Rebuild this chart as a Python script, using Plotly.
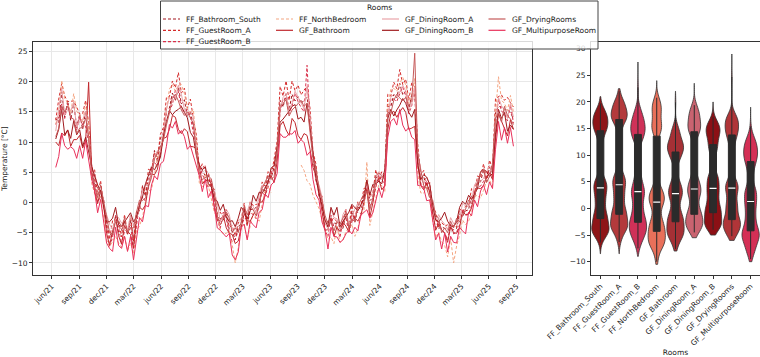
import numpy as np
import pandas as pd
import plotly.graph_objects as go

# ---------------- data ----------------
rooms = ["FF_Bathroom_South", "FF_GuestRoom_A", "FF_GuestRoom_B", "FF_NorthBedroom",
         "GF_Bathroom", "GF_DiningRoom_A", "GF_DiningRoom_B", "GF_DryingRooms",
         "GF_MultipurposeRoom"]

start_date = "2021-06-14"   # first sample, one sample every 10 days

ff_bathroom_south = [
    13.9, 13.2, 18.3, 14.1, 16.8, 13.6, 16.5, 12.4, 14.6, 12.1,
    15.1, 10.4, 6.3, 3.1, 2.5, 1.4, 0.6, -4.2, -5.1, -5.6,
    -2.1, -4.9, -4.6, -3.1, -5.4, -2.9, -6.4, -2.1, -1.3, 2.8,
    1.0, 4.4, 4.9, 8.6, 6.8, 10.7, 11.0, 15.5, 15.6, 18.1,
    16.8, 19.1, 16.3, 17.0, 14.2, 15.1, 12.3, 10.1, 4.8, 5.3,
    4.4, 4.5, 2.3, 1.2, -2.4, -2.6, -2.9, -1.9, -4.5, -4.7,
    -6.2, -4.0, -3.5, -0.9, -3.9, -1.1, -1.2, -0.8, -0.6, 2.3,
    1.9, 4.5, 4.0, 5.9, 8.6, 16.9, 15.8, 18.0, 15.3, 17.9,
    16.8, 17.5, 16.4, 16.9, 17.4, 14.0, 7.9, 5.5, 0.9, 0.3,
    -3.8, -4.0, -3.3, -3.4, -3.5, -4.1, -4.3, -1.9, -4.3, -1.4,
    -3.3, -0.8, -1.1, 1.4, 3.8, 0.3, 0.8, 4.3, 3.4, 4.4,
    3.9, 15.9, 15.8, 17.9, 17.3, 19.7, 17.8, 18.4, 15.3, 17.9,
    17.8, 8.4, 3.9, 4.3, 2.4, 2.3, -1.3, -2.4, -4.3, -4.0,
    -4.3, -4.4, -4.8, -4.5, -4.3, -1.9, -2.3, -1.4, -1.2, 1.3,
    0.9, 3.3, 3.4, 5.4, 3.4, 5.8, 4.9, 14.9, 15.9, 15.8,
    15.4, 15.3, 14.9, 13.8]

ff_guestroom_a = [
    13.6, 17.1, 19.7, 17.6, 16.7, 16.7, 16.8, 15.8, 14.6, 14.7,
    16.9, 13.1, 5.7, 5.4, 1.3, 3.6, -0.6, -2.4, -6.1, -3.0,
    -2.9, -2.9, -5.7, -2.0, -5.2, -2.1, -6.3, -1.5, -0.9, 2.6,
    1.4, 5.5, 5.2, 8.3, 7.2, 11.3, 12.4, 17.4, 17.5, 20.1,
    19.0, 21.5, 18.1, 18.9, 15.6, 17.1, 13.9, 11.2, 5.1, 6.4,
    5.2, 5.0, 2.7, 2.2, -1.9, -1.6, -2.5, -1.1, -4.1, -3.8,
    -5.5, -3.4, -2.8, -0.1, -3.7, 0.1, -0.5, -0.3, -0.4, 3.4,
    2.7, 5.1, 4.3, 6.9, 10.1, 19.2, 17.6, 20.1, 16.9, 20.1,
    18.5, 19.4, 17.8, 18.6, 19.2, 15.6, 8.4, 6.3, 1.5, 1.1,
    -3.3, -3.1, -3.0, -2.6, -3.2, -3.3, -3.9, -1.1, -4.1, -0.4,
    -2.9, 0.1, -0.6, 2.3, 2.3, 1.2, 1.5, 5.4, 3.7, 5.1,
    4.6, 17.9, 17.6, 19.9, 18.8, 22.0, 19.5, 20.4, 16.9, 19.8,
    19.1, 9.7, 4.5, 5.3, 2.8, 3.3, -0.7, -1.6, -4.2, -3.3,
    -3.9, -3.7, -4.4, -3.8, -4.1, -1.0, -1.6, -0.6, -0.6, 2.3,
    1.5, 4.4, 4.1, 6.4, 3.8, 7.0, 5.6, 17.2, 17.5, 17.8,
    16.9, 17.4, 16.5, 15.8]

ff_guestroom_b = [
    12.9, 14.2, 16.3, 13.9, 16.4, 14.2, 13.7, 12.0, 14.2, 12.8,
    12.6, 9.9, 6.1, 3.7, 0.0, 1.0, -0.3, -3.5, -7.2, -5.8,
    -2.2, -4.1, -6.9, -4.7, -4.4, -3.7, -7.5, -3.8, -0.1, 0.9,
    0.2, 2.4, 5.6, 6.7, 6.0, 7.9, 12.0, 14.7, 15.2, 16.2,
    18.6, 18.4, 15.5, 15.0, 15.4, 14.2, 11.5, 8.3, 6.1, 4.6,
    3.7, 2.4, 3.6, 0.6, -2.9, -4.3, -1.6, -2.7, -5.1, -6.5,
    -6.1, -4.7, -3.9, -2.7, -2.6, -1.7, -2.0, -2.7, 0.4, 1.6,
    1.2, 2.5, 5.1, 5.1, 7.7, 15.0, 17.1, 17.2, 14.7, 16.0,
    18.1, 16.7, 15.7, 15.0, 22.7, 13.2, 7.0, 3.5, 2.1, -0.5,
    -4.5, -5.7, -2.1, -4.1, -3.9, -5.8, -3.1, -2.6, -5.0, -3.2,
    -2.1, -1.6, -1.9, -0.5, 3.1, -0.6, 0.2, 2.5, 4.6, 3.6,
    3.2, 14.0, 17.1, 17.1, 16.7, 18.0, 19.1, 17.6, 14.7, 16.0,
    19.1, 7.6, 3.2, 2.5, 3.6, 1.6, -2.0, -4.2, -3.1, -4.6,
    -5.0, -6.2, -3.6, -5.2, -4.9, -3.7, -1.1, -2.1, -2.0, -0.5,
    2.1, 2.6, 2.7, 3.5, 4.6, 5.1, 4.2, 13.0, 17.1, 15.1,
    14.7, 13.5, 16.1, 13.1]

ff_northbedroom = [
    13.0, 14.7, 20.2, 17.2, 16.4, 14.8, 18.0, 15.1, 14.4, 13.3,
    16.3, 13.0, 3.2, 1.5, 0.6, 1.0, -2.7, -6.2, -7.3, -6.4,
    -5.6, -6.7, -7.4, -5.5, -8.0, -6.7, -8.5, -4.6, -3.9, -2.4,
    0.1, 1.9, 2.1, 4.6, 7.4, 8.8, 11.3, 15.2, 18.8, 19.5,
    18.4, 19.4, 19.5, 18.0, 15.5, 14.7, 15.4, 9.7, 3.2, 2.6,
    4.7, 2.8, 0.6, -1.6, -2.4, -4.5, -5.2, -5.1, -4.7, -7.0,
    -10.0, -7.6, -3.9, -3.6, -6.1, -4.1, -1.7, -2.5, -3.1, -0.3,
    2.1, 2.7, 1.6, None, None, None, None, None, None, None,
    None, None, 6.2, 5.3, 3.6, 3.0, 1.2, 0.1, -1.0, -2.8,
    -4.3, -6.1, -5.7, -6.8, -3.8, -6.6, -6.2, -4.8, -4.3, -3.6,
    -5.6, -4.3, -1.7, -1.5, 6.7, -3.8, -1.5, 1.0, 3.0, 2.8,
    1.7, 15.7, 18.7, 18.9, 18.4, 19.7, 20.7, 19.4, 16.4, 17.7,
    20.5, 4.8, 1.6, 1.5, 2.6, 0.7, -3.1, -5.8, -4.9, -6.5,
    -7.1, -9.0, -5.9, -10.0, -7.2, -5.4, -2.9, -3.7, -3.1, -1.7,
    1.0, 1.2, 0.7, 2.0, 3.5, 3.7, 2.7, 14.7, 20.8, 16.9,
    16.4, 15.2, 17.7, 14.9]

gf_bathroom = [
    10.0, 9.4, 11.5, 11.0, 12.0, 9.3, 10.4, 10.4, 11.1, 9.0,
    10.2, 19.9, 5.4, 1.8, -0.2, 2.0, -0.3, -5.1, -7.1, -4.8,
    -2.5, -5.5, -6.9, -3.8, -4.8, -5.3, -7.6, -2.8, -0.8, -1.2,
    -0.4, 2.9, 4.7, 4.6, 5.5, 8.4, 10.6, 10.8, 12.1, 14.4,
    14.1, 12.1, 11.4, 12.2, 11.7, 9.3, 9.2, 8.9, 5.7, 3.1,
    3.6, 3.7, 3.2, -0.9, -2.9, -3.0, -2.1, -4.2, -5.1, -5.3,
    -6.8, -6.4, -4.1, -1.8, -3.0, -3.1, -2.1, -1.3, 0.0, 0.1,
    1.1, 3.7, 4.4, 3.3, 6.8, 12.7, 13.4, 12.0, 11.1, 13.9,
    13.2, 11.1, 10.4, 11.4, 11.1, 8.8, 5.8, 4.4, 1.7, -1.9,
    -4.6, -4.5, -2.5, -5.6, -4.1, -4.8, -3.3, -3.9, -4.9, -2.0,
    -2.5, -3.1, -2.1, 0.2, 2.2, -2.4, -0.1, 3.4, 3.9, 2.1,
    2.8, 12.1, 14.7, 15.1, 14.1, 15.0, 15.7, 14.9, 12.1, 12.3,
    12.6, 6.4, 2.8, 2.1, 3.2, 1.7, -1.9, -4.6, -3.5, -4.5,
    -5.1, -6.6, -4.0, -5.0, -5.1, -4.1, -1.5, -2.0, -1.9, -0.9,
    1.7, 2.4, 2.3, 2.8, 4.2, 4.9, 3.8, 10.5, 14.7, 13.4,
    12.1, 11.0, 13.7, 12.1]

gf_diningroom_a = [
    11.8, 15.1, 18.9, 14.5, 15.4, 15.2, 16.5, 12.5, 13.4, 13.6,
    15.1, 10.4, 5.0, 4.7, 2.9, 1.6, -0.7, -2.0, -3.6, -4.5,
    -2.7, -2.5, -3.4, -3.6, -4.5, -2.1, -3.7, -2.7, -0.7, 2.2,
    2.9, 3.0, 4.5, 7.5, 8.6, 8.3, 11.0, 15.4, 17.4, 16.6,
    17.3, 19.4, 17.9, 15.4, 14.4, 15.1, 14.1, 8.8, 5.0, 5.7,
    6.1, 3.1, 2.6, 1.9, -0.1, -3.2, -2.2, -1.1, -2.0, -4.5,
    -4.2, -3.0, -2.7, -1.7, -1.5, 0.0, -0.7, -1.7, 1.4, 2.9,
    2.3, 3.1, 5.6, 6.2, 8.6, 15.4, 17.4, 17.9, 15.4, 16.4,
    18.4, 17.4, 16.3, 15.5, 19.1, 14.1, 7.8, 4.1, 2.9, 0.9,
    -3.1, -4.5, -1.1, -2.5, -2.7, -4.5, -2.0, -1.1, -3.6, -2.2,
    -1.1, -0.1, -0.7, 0.3, 3.6, 0.9, 1.3, 3.1, 5.1, 4.7,
    4.0, 14.4, 17.4, 17.9, 17.4, 18.3, 19.4, 18.4, 15.4, 16.3,
    19.0, 8.6, 4.0, 3.1, 4.2, 2.9, -0.7, -3.1, -2.0, -3.0,
    -3.6, -4.5, -2.5, -3.5, -3.6, -2.7, -0.1, -0.6, -0.7, 0.3,
    2.9, 3.7, 3.5, 4.0, 5.1, 6.1, 5.0, 13.4, 17.4, 16.0,
    15.3, 13.9, 16.4, 14.1]

gf_diningroom_b = [
    10.5, 12.1, 15.4, 11.2, 12.0, 10.6, 13.5, 11.2, 12.0, 9.3,
    10.8, 8.6, 6.0, 4.4, 2.9, 1.9, -0.4, -3.2, -3.2, -2.6,
    -0.8, -3.7, -4.0, -3.2, -2.5, -1.7, -3.2, -2.4, -0.5, 0.9,
    3.1, 4.7, 5.9, 5.4, 6.3, 7.5, 11.0, 13.4, 15.2, 14.5,
    15.1, 15.4, 15.9, 14.9, 14.0, 11.6, 10.8, 7.8, 6.2, 5.4,
    5.9, 3.1, 2.6, 0.5, 0.2, -1.3, -0.3, -2.4, -3.2, -3.0,
    -4.0, -2.6, -0.8, -1.4, -2.7, -1.4, 1.2, 0.2, 1.7, 1.5,
    2.4, 3.3, 5.7, 6.1, 9.2, 13.3, 13.8, 14.4, 15.1, 15.9,
    16.2, 13.8, 14.1, 13.3, 16.4, 12.4, 8.4, 3.9, 1.5, -0.4,
    -2.9, -4.0, -0.8, -2.1, -0.8, -4.0, -3.2, -2.4, -1.6, -0.3,
    -0.8, -1.4, -0.4, 0.5, 3.7, 1.2, 3.0, 3.1, 3.5, 3.1,
    5.5, 13.9, 15.4, 14.3, 15.3, 16.1, 17.2, 16.4, 14.9, 14.1,
    15.4, 6.3, 3.8, 4.6, 4.2, 3.0, -0.4, -2.9, -3.2, -2.6,
    -1.6, -3.1, -3.9, -4.0, -3.2, -0.8, 0.2, -0.3, 1.2, 0.5,
    1.4, 2.3, 5.1, 5.5, 5.1, 4.3, 4.8, 11.3, 15.4, 13.9,
    14.9, 11.8, 12.8, 12.1]

gf_dryingrooms = [
    10.9, 12.3, 16.0, 15.0, 16.0, 14.0, 13.8, 11.4, 12.3, 12.4,
    14.0, 10.9, 4.6, 2.8, 0.8, 2.9, 0.4, -2.6, -5.0, -5.2,
    -3.2, -3.1, -4.0, -2.6, -5.0, -4.2, -4.2, -1.6, 0.4, 0.3,
    0.8, 2.6, 4.1, 7.2, 8.2, 9.4, 10.3, 12.8, 14.8, 17.4,
    17.9, 16.8, 15.3, 14.4, 15.0, 14.0, 13.1, 8.1, 4.6, 3.8,
    4.1, 4.4, 3.9, 1.4, -2.2, -3.7, -2.7, -1.6, -2.6, -5.0,
    -4.2, -5.0, -3.2, -0.6, -2.1, -0.6, -1.2, -2.2, -0.7, 2.4,
    3.4, 4.4, 3.8, 4.3, 8.1, 15.9, 16.4, 17.0, 14.3, 15.3,
    15.8, 16.4, 16.9, 15.9, 16.4, 11.6, 7.3, 5.4, 2.4, 0.4,
    -2.1, -3.6, -3.2, -4.7, -3.2, -3.6, -2.6, -1.6, -4.2, -2.7,
    -3.2, -0.6, 0.4, 1.4, 1.8, -1.2, 0.8, 4.4, 4.9, 4.4,
    3.8, 14.9, 14.8, 16.9, 17.9, 17.3, 16.8, 17.4, 15.9, 16.9,
    24.7, 8.2, 5.4, 2.8, 2.3, 0.8, 0.4, -2.1, -2.6, -5.0,
    -4.2, -5.0, -3.1, -4.2, -2.6, -3.2, -2.2, -1.1, 0.4, -0.2,
    0.8, 3.4, 4.9, 5.4, 3.3, 4.3, 6.4, 13.9, 14.8, 13.3,
    15.9, 14.4, 13.8, 12.9]

gf_multipurposeroom = [
    5.8, 7.6, 11.4, 9.4, 8.8, 9.2, 8.8, 7.3, 9.4, 7.3,
    10.2, 6.8, 3.9, 1.9, -1.7, 0.5, -3.2, -6.7, -7.6, -8.1,
    -4.1, -7.1, -7.6, -5.6, -8.1, -5.6, -9.5, -6.2, -2.5, -3.2,
    -0.5, -0.7, 2.9, 4.4, 3.8, 6.4, 6.8, 9.3, 12.9, 12.3,
    13.4, 11.3, 11.9, 10.9, 8.8, 9.4, 7.8, 5.8, 4.4, 1.8,
    3.9, 0.8, 1.9, -0.6, -4.2, -4.6, -5.2, -5.7, -5.1, -8.7,
    -9.5, -8.2, -4.1, -3.6, -6.2, -3.1, -3.7, -4.2, -1.6, -1.2,
    1.4, 0.8, 2.9, 3.4, 4.8, 11.4, 10.8, 10.8, 11.4, 11.3,
    11.9, 9.8, 10.4, 9.9, 7.8, 8.4, 3.8, 1.3, 0.4, -3.2,
    -4.6, -7.7, -4.1, -5.6, -5.7, -6.6, -6.2, -5.2, -4.6, -5.2,
    -4.1, -4.7, -2.1, -1.6, -1.2, -2.6, -1.7, 0.3, 2.4, 0.8,
    2.9, 10.8, 13.4, 13.9, 12.8, 15.4, 12.8, 11.8, 12.4, 10.8,
    10.4, 2.8, 2.9, 2.4, 0.3, 0.4, -3.2, -6.2, -5.1, -7.7,
    -5.1, -8.2, -5.6, -6.6, -6.7, -4.1, -4.7, -5.2, -1.6, -2.2,
    0.4, -0.7, 1.9, 2.9, 1.3, 3.4, 2.3, 8.8, 13.4, 10.3,
    12.4, 9.8, 12.4, 9.3]

series = [ff_bathroom_south, ff_guestroom_a, ff_guestroom_b, ff_northbedroom,
          gf_bathroom, gf_diningroom_a, gf_diningroom_b, gf_dryingrooms,
          gf_multipurposeroom]

# extent of each violin (tip to tip)
violin_low = [-8.5, -8.5, -9.0, -10.5, -8.0, -5.5, -5.0, -6.0, -10.0]
violin_high = [21.0, 22.5, 27.5, 24.0, 22.0, 23.5, 20.0, 29.0, 19.0]

tick_dates = ["2021-06-01", "2021-09-01", "2021-12-01", "2022-03-01", "2022-06-01",
              "2022-09-01", "2022-12-01", "2023-03-01", "2023-06-01", "2023-09-01",
              "2023-12-01", "2024-03-01", "2024-06-01", "2024-09-01", "2024-12-01",
              "2025-03-01", "2025-06-01", "2025-09-01"]
tick_labels = ["jun/21", "sep/21", "dec/21", "mar/22", "jun/22", "sep/22", "dec/22",
               "mar/23", "jun/23", "sep/23", "dec/23", "mar/24", "jun/24", "sep/24",
               "dec/24", "mar/25", "jun/25", "sep/25"]

# ---------------- styles ----------------
line_colors = ["#A3171E", "#D42A2A", "#D8304A", "#F4A582", "#C0282D",
               "#E9A3A8", "#A01A1E", "#C55A5A", "#E8305A"]
line_dashes = ["3px,2px"] * 4 + ["solid"] * 5
violin_colors = ["#8E1518", "#B33A3C", "#CF3158", "#E8705A", "#A53035",
                 "#C96370", "#8C1015", "#B03538", "#D42F55"]

FONT = "DejaVu Sans"
FS = 7.5
TXT = "#222222"
W, H = 760, 357


def px_x(v):
    return v / W


def px_y(v):
    return 1 - v / H


fig = go.Figure()

for name, vals, col, dash in zip(rooms, series, line_colors, line_dashes):
    y = np.array([np.nan if v is None else v for v in vals], dtype=float)
    dates = pd.date_range(start_date, periods=len(y), freq="10D")
    fig.add_trace(go.Scatter(
        x=dates, y=y, mode="lines", name=name, showlegend=False,
        line=dict(color=col, width=1, dash=dash), connectgaps=False,
        xaxis="x", yaxis="y"))

for i, (name, vals) in enumerate(zip(rooms, series)):
    y = np.array([v for v in vals if v is not None], dtype=float)
    fig.add_trace(go.Violin(
        x=[name] * len(y), y=y, name=name, showlegend=False,
        fillcolor=violin_colors[i], opacity=1,
        line=dict(color="#333333", width=0.8),
        spanmode="manual", span=[violin_low[i], violin_high[i]],
        bandwidth=1.15, width=0.92, points=False,
        box=dict(visible=True, width=0.4, fillcolor="#2b2b2b",
                 line=dict(color="#2b2b2b", width=1)),
        meanline=dict(visible=False),
        xaxis="x2", yaxis="y2"))
    fig.add_trace(go.Scatter(
        x=[name], y=[float(np.median(y))], mode="markers", showlegend=False,
        marker=dict(symbol="line-ew", size=5, line=dict(color="white", width=1.2)),
        xaxis="x2", yaxis="y2", hoverinfo="skip"))

ydom = [px_y(275), px_y(42.3)]
axis_common = dict(showline=True, linecolor="#333333", linewidth=1, mirror=True,
                   ticks="outside", ticklen=3, tickcolor="#333333", automargin=False,
                   tickfont=dict(family=FONT, size=FS, color=TXT), zeroline=False)

fig.update_layout(
    width=W, height=H, margin=dict(l=0, r=0, t=0, b=0, autoexpand=False),
    paper_bgcolor="white", plot_bgcolor="white",
    font=dict(family=FONT, size=FS, color=TXT),
    xaxis=dict(domain=[px_x(33), px_x(532)], anchor="y", type="date",
               range=["2021-03-30", "2025-10-23"],
               tickvals=tick_dates, ticktext=tick_labels, tickangle=-45,
               showgrid=True, gridcolor="#e8e8e8", gridwidth=0.8, **axis_common),
    yaxis=dict(domain=ydom, anchor="x", range=[-12, 26.5], dtick=5,
               showgrid=True, gridcolor="#e8e8e8", gridwidth=0.8,
               title=dict(text="Temperature [°C]", standoff=3,
                          font=dict(family=FONT, size=FS, color=TXT)),
               **axis_common),
    xaxis2=dict(domain=[px_x(591), 1.0], anchor="y2", type="category",
                range=[-0.5, 8.5], tickangle=-45, showgrid=False,
                title=dict(text="Rooms", standoff=3,
                           font=dict(family=FONT, size=FS, color=TXT)),
                **axis_common),
    yaxis2=dict(domain=ydom, anchor="x2", range=[-12.5, 31.2], dtick=5,
                showgrid=False, **axis_common),
    violinmode="overlay",
)

# ---------------- legend (matplotlib style, 4 columns) ----------------
shapes = [dict(type="rect", xref="paper", yref="paper",
               x0=px_x(160.5), x1=px_x(598), y0=px_y(49), y1=px_y(1),
               line=dict(color="#444444", width=1),
               fillcolor="rgba(255,255,255,0.82)", layer="above")]
annotations = [dict(text="Rooms", xref="paper", yref="paper", x=px_x(379), y=px_y(7.5),
                    xanchor="center", yanchor="middle", showarrow=False,
                    font=dict(family=FONT, size=FS, color=TXT))]
col_text_x = [184, 297, 403, 509.5]
row_y = [19, 30.3, 41.7]
col_of = [0, 0, 0, 1, 1, 2, 2, 3, 3]
row_of = [0, 1, 2, 0, 1, 0, 1, 0, 1]
for i, name in enumerate(rooms):
    tx = col_text_x[col_of[i]]
    ty = row_y[row_of[i]]
    shapes.append(dict(type="line", xref="paper", yref="paper",
                       x0=px_x(tx - 21), x1=px_x(tx - 4), y0=px_y(ty), y1=px_y(ty),
                       line=dict(color=line_colors[i], width=1.2, dash=line_dashes[i]),
                       layer="above"))
    annotations.append(dict(text=name, xref="paper", yref="paper", x=px_x(tx), y=px_y(ty),
                            xanchor="left", yanchor="middle", showarrow=False,
                            font=dict(family=FONT, size=FS, color=TXT)))

fig.update_layout(shapes=shapes, annotations=annotations)

fig.write_html("out.html")
